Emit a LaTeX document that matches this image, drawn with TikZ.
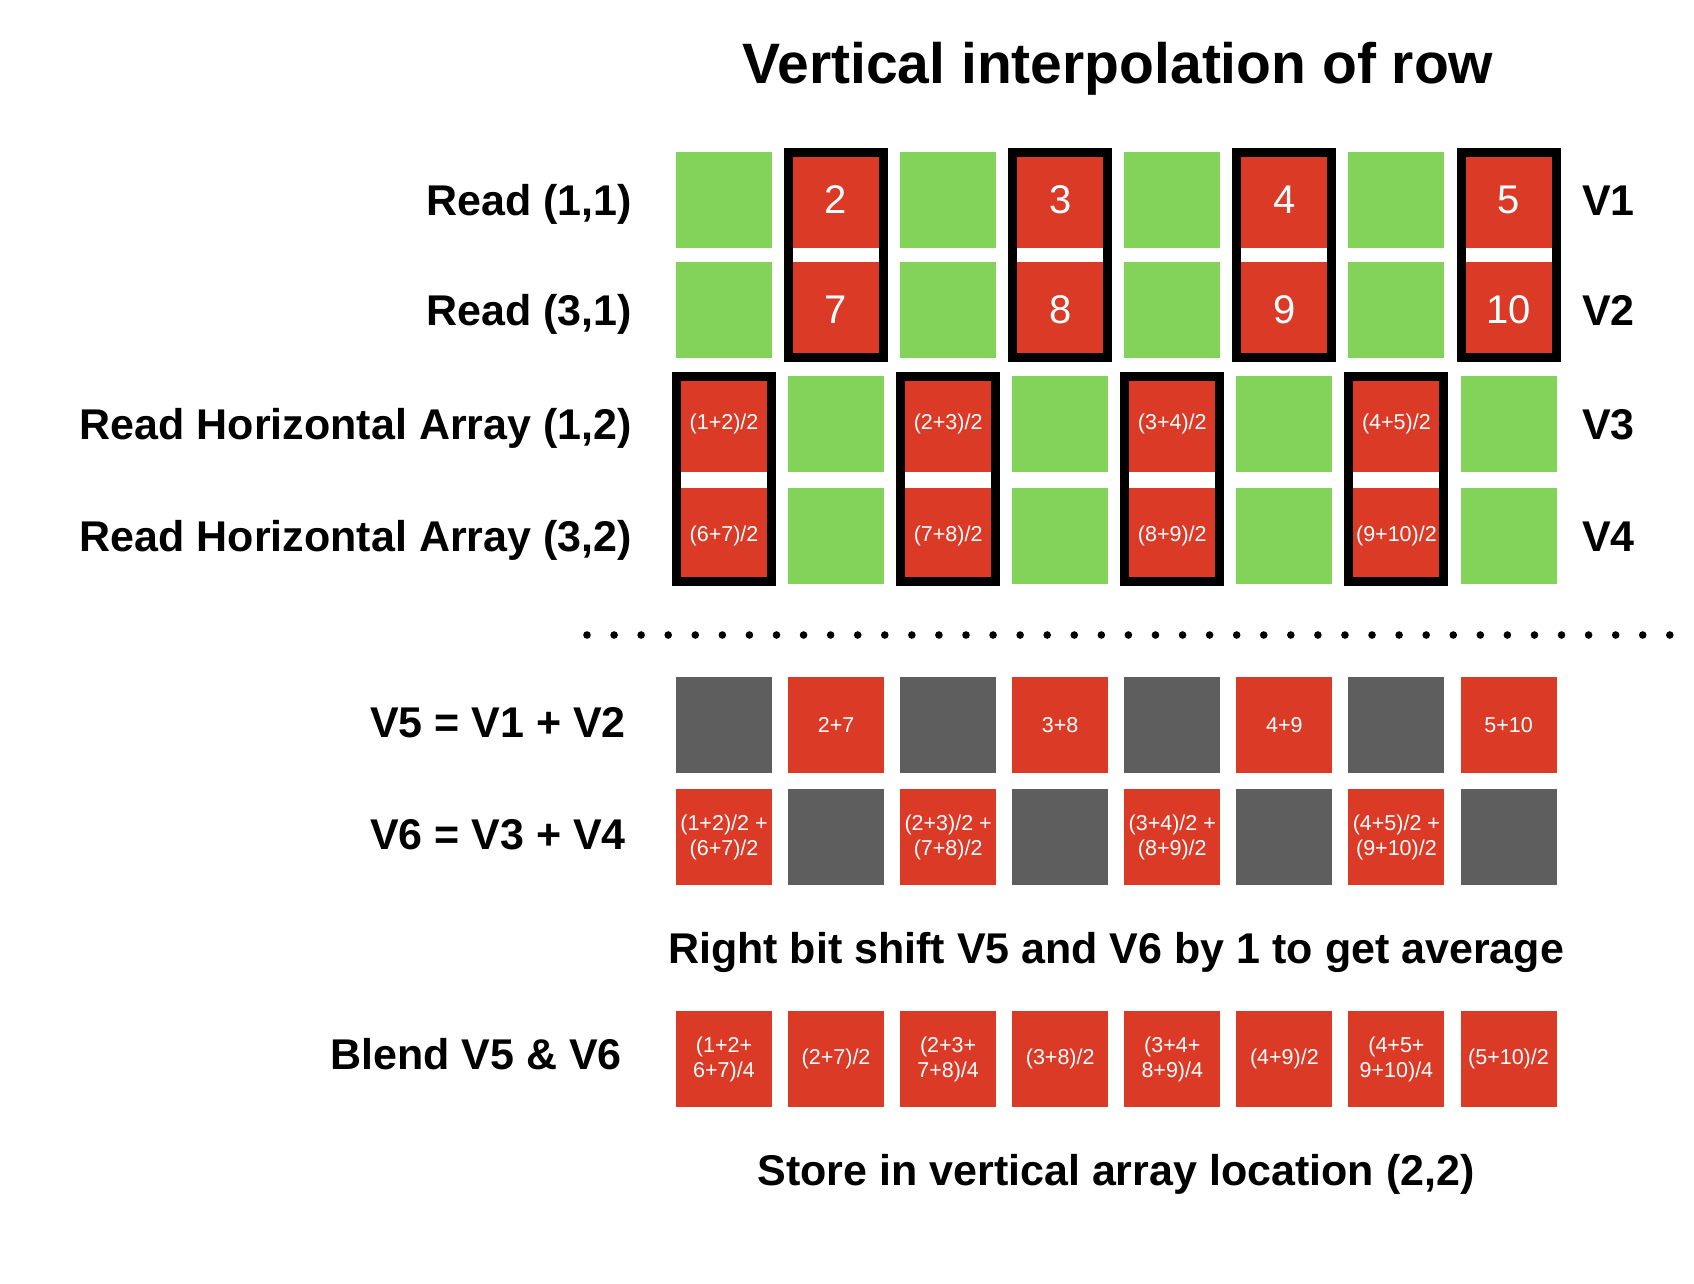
\documentclass[tikz,border=0pt]{standalone}
\usepackage{fontspec}
\setmainfont{Liberation Sans}
\definecolor{cgreen}{HTML}{83D35A}
\definecolor{cred}{HTML}{DA3A26}
\definecolor{cgray}{HTML}{5E5E5E}
\begin{document}
\begin{tikzpicture}[x=1pt,y=-1pt,
  cell/.style={minimum width=96pt,minimum height=96pt,inner sep=0pt,outer sep=0pt,text=white,align=center},
  gcell/.style={cell,fill=cgreen},
  rcell/.style={cell,fill=cred},
  kcell/.style={cell,fill=cgray},
  numtxt/.style={font=\fontsize{40}{46}\selectfont},
  smalltxt/.style={font=\fontsize{21.5}{25}\selectfont},
  blackframe/.style={draw=black,line width=9pt},
  lbl/.style={font=\fontsize{43}{50}\selectfont\bfseries,inner sep=0pt},
  ttl/.style={font=\fontsize{57}{66}\selectfont\bfseries,inner sep=0pt}]
\fill[white] (0,0) rectangle (1694,1284);
\useasboundingbox (0,0) rectangle (1694,1284);

% title
\node[ttl,anchor=base] (title) at (1118,84) {Vertical interpolation of row};

% rows 1 and 2
\foreach \i/\s/\ta/\tb in {1/gcell//,2/rcell/2/7,3/gcell//,4/rcell/3/8,5/gcell//,6/rcell/4/9,7/gcell//,8/rcell/5/10}{
  \pgfmathsetmacro\cx{724+(\i-1)*112.07}
  \node[\s,numtxt] (a\i) at (\cx,200) {\ta};
  \node[\s,numtxt] (b\i) at (\cx,310) {\tb};
}
\foreach \i in {2,4,6,8}{
  \draw[blackframe] ([xshift=0.5pt,yshift=-0.5pt]a\i.north west) rectangle ([xshift=-0.5pt,yshift=1pt]b\i.south east);
}

% rows 3 and 4
\foreach \i/\s/\ta/\tb in {1/rcell/{(1+2)/2}/{(6+7)/2},2/gcell//,3/rcell/{(2+3)/2}/{(7+8)/2},4/gcell//,5/rcell/{(3+4)/2}/{(8+9)/2},6/gcell//,7/rcell/{(4+5)/2}/{(9+10)/2},8/gcell//}{
  \pgfmathsetmacro\cx{724+(\i-1)*112.07}
  \node[\s,smalltxt] (c\i) at (\cx,424) {\ta};
  \node[\s,smalltxt] (d\i) at (\cx,536) {\tb};
}
\foreach \i in {1,3,5,7}{
  \draw[blackframe] ([xshift=0.5pt,yshift=-0.5pt]c\i.north west) rectangle ([xshift=-0.5pt,yshift=3pt]d\i.south east);
}

% labels
\node[lbl,anchor=base east] (l1) at (632,215.5) {Read (1,1)};
\node[lbl,anchor=base east] (l2) at (632,325.5) {Read (3,1)};
\node[lbl,anchor=base east] (l3) at (632,439.5) {Read Horizontal Array (1,2)};
\node[lbl,anchor=base east] (l4) at (632,551.5) {Read Horizontal Array (3,2)};
\node[lbl,anchor=base west] (v1) at (1582,215.5) {V1};
\node[lbl,anchor=base west] (v2) at (1582,325.5) {V2};
\node[lbl,anchor=base west] (v3) at (1582,439.5) {V3};
\node[lbl,anchor=base west] (v4) at (1582,551.5) {V4};

% dotted separator
\foreach \k in {0,...,40}{
  \fill[black] (587+\k*27.07,635) circle (3.8);
}

% V5 and V6 rows
\foreach \i/\s/\ta in {1/kcell/,2/rcell/2+7,3/kcell/,4/rcell/3+8,5/kcell/,6/rcell/4+9,7/kcell/,8/rcell/5+10}{
  \pgfmathsetmacro\cx{724+(\i-1)*112.07}
  \node[\s,smalltxt] (e\i) at (\cx,725) {\ta};
}
\foreach \i/\s/\ta in {1/rcell/{(1+2)/2 +\\(6+7)/2},2/kcell/,3/rcell/{(2+3)/2 +\\(7+8)/2},4/kcell/,5/rcell/{(3+4)/2 +\\(8+9)/2},6/kcell/,7/rcell/{(4+5)/2 +\\(9+10)/2},8/kcell/}{
  \pgfmathsetmacro\cx{724+(\i-1)*112.07}
  \node[\s,smalltxt] (f\i) at (\cx,837) {\ta};
}
\node[lbl,anchor=base east] (l5) at (626,737) {V5 = V1 + V2};
\node[lbl,anchor=base east] (l6) at (626,849) {V6 = V3 + V4};

\node[lbl,anchor=base] (shift) at (1116,963) {Right bit shift V5 and V6 by 1 to get average};

% blend row
\foreach \i/\ta in {1/{(1+2+\\6+7)/4},2/{(2+7)/2},3/{(2+3+\\7+8)/4},4/{(3+8)/2},5/{(3+4+\\8+9)/4},6/{(4+9)/2},7/{(4+5+\\9+10)/4},8/{(5+10)/2}}{
  \pgfmathsetmacro\cx{724+(\i-1)*112.07}
  \node[rcell,smalltxt] (g\i) at (\cx,1059) {\ta};
}
\node[lbl,anchor=base east] (l7) at (622,1069) {Blend V5 \& V6};

\node[lbl,anchor=base] (store) at (1116,1185) {Store in vertical array location (2,2)};
\end{tikzpicture}
\end{document}
